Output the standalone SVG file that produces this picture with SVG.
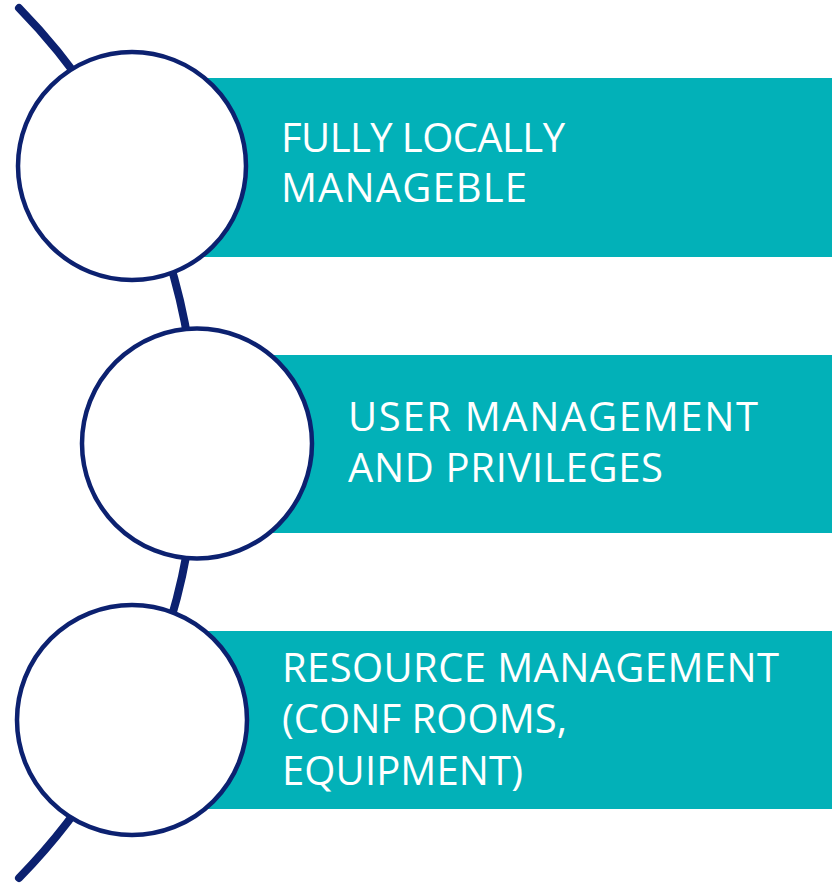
<svg xmlns="http://www.w3.org/2000/svg" width="838" height="885" viewBox="0 0 838 885">
<style>
.bar{fill:#02B1B8;}
.node circle{fill:#FFFFFF;stroke:#0C2170;stroke-width:4.5;}
.lbl{font-family:"Open Sans","Liberation Sans",sans-serif;font-size:40px;fill:#FFFFFF;}
.arc{fill:none;stroke:#0C2170;stroke-width:8;stroke-linecap:round;}
</style>
<rect width="838" height="885" fill="#FFFFFF"/>
<g id="connectors">
<path class="arc" d="M 19 8 A 622 622 0 0 1 19 878"/>
</g>
<g id="node1" class="node">
<rect class="bar" x="132" y="78" width="700" height="179"/>
<circle cx="132" cy="166" r="114"/>
<text class="lbl" x="281" y="152" textLength="284">FULLY LOCALLY</text>
<text class="lbl" x="281" y="202" textLength="246">MANAGEBLE</text>
</g>
<g id="node2" class="node">
<rect class="bar" x="197" y="355" width="635" height="178"/>
<circle cx="197" cy="443.5" r="115"/>
<text class="lbl" x="348" y="431" textLength="410">USER MANAGEMENT</text>
<text class="lbl" x="348" y="482" textLength="315">AND PRIVILEGES</text>
</g>
<g id="node3" class="node">
<rect class="bar" x="132" y="631" width="700" height="178"/>
<circle cx="132" cy="720" r="115"/>
<text class="lbl" x="282" y="682" textLength="497">RESOURCE MANAGEMENT</text>
<text class="lbl" x="282" y="733" textLength="285">(CONF ROOMS,</text>
<text class="lbl" x="282" y="785" textLength="241">EQUIPMENT)</text>
</g>
</svg>
